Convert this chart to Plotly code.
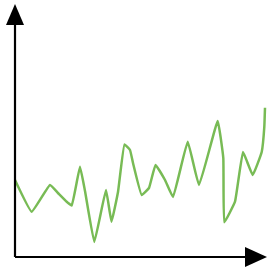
import plotly.graph_objects as go

# Series (x: horizontal position, y: height above the x-axis)
x_vals = [0, 16.7, 35, 43, 51.7, 56.7, 65, 70, 79.3, 91, 96.5, 103, 109.5, 115, 118, 126.7,
          134, 140.5, 150, 158, 172.7, 184, 202.7, 208.3, 209.3, 220, 228, 237.7, 246.7, 249.3, 250]
y_vals = [77, 45.3, 72, 64, 55.3, 51.5, 90.3, 66, 15, 67, 35.3, 65, 112.5, 107, 94, 62,
          69, 92, 77, 60, 115.3, 72, 136, 99, 34.7, 55.3, 105, 82, 105, 130, 149.3]

fig = go.Figure()
fig.add_trace(go.Scatter(x=x_vals, y=y_vals, mode="lines",
                         line=dict(color="#78bb55", width=2.5, shape="spline", smoothing=0.3),
                         hoverinfo="skip", showlegend=False))

# axes with arrows (paper coords == pixel fraction, margins are zero)
W, H = 272, 269
def px(x, y):
    return x / W, 1 - y / H

shapes = []
x0, y0 = px(15, 257)
x1, y1 = px(15, 22)
shapes.append(dict(type="line", xref="paper", yref="paper", x0=x0, y0=y0, x1=x1, y1=y1,
                   line=dict(color="black", width=2.2)))
x2, y2 = px(248, 257)
shapes.append(dict(type="line", xref="paper", yref="paper", x0=x0, y0=y0, x1=x2, y1=y2,
                   line=dict(color="black", width=2.2)))

def tri(pts):
    p = [px(a, b) for a, b in pts]
    return "M {} {} L {} {} L {} {} Z".format(p[0][0], p[0][1], p[1][0], p[1][1], p[2][0], p[2][1])

shapes.append(dict(type="path", xref="paper", yref="paper",
                   path=tri([(15, 4), (6, 25), (24, 25)]),
                   fillcolor="black", line=dict(color="black", width=0)))
shapes.append(dict(type="path", xref="paper", yref="paper",
                   path=tri([(267, 257), (245, 247), (245, 267)]),
                   fillcolor="black", line=dict(color="black", width=0)))

fig.update_layout(
    width=W, height=H,
    margin=dict(l=0, r=0, t=0, b=0),
    paper_bgcolor="white", plot_bgcolor="white",
    xaxis=dict(range=[-15, 257], visible=False, fixedrange=True),
    yaxis=dict(range=[-12, 257], visible=False, fixedrange=True),
    shapes=shapes,
)

fig.write_html("out.html", config={"displayModeBar": False},
               post_script="document.body.style.margin='0';document.body.style.overflow='hidden';")
